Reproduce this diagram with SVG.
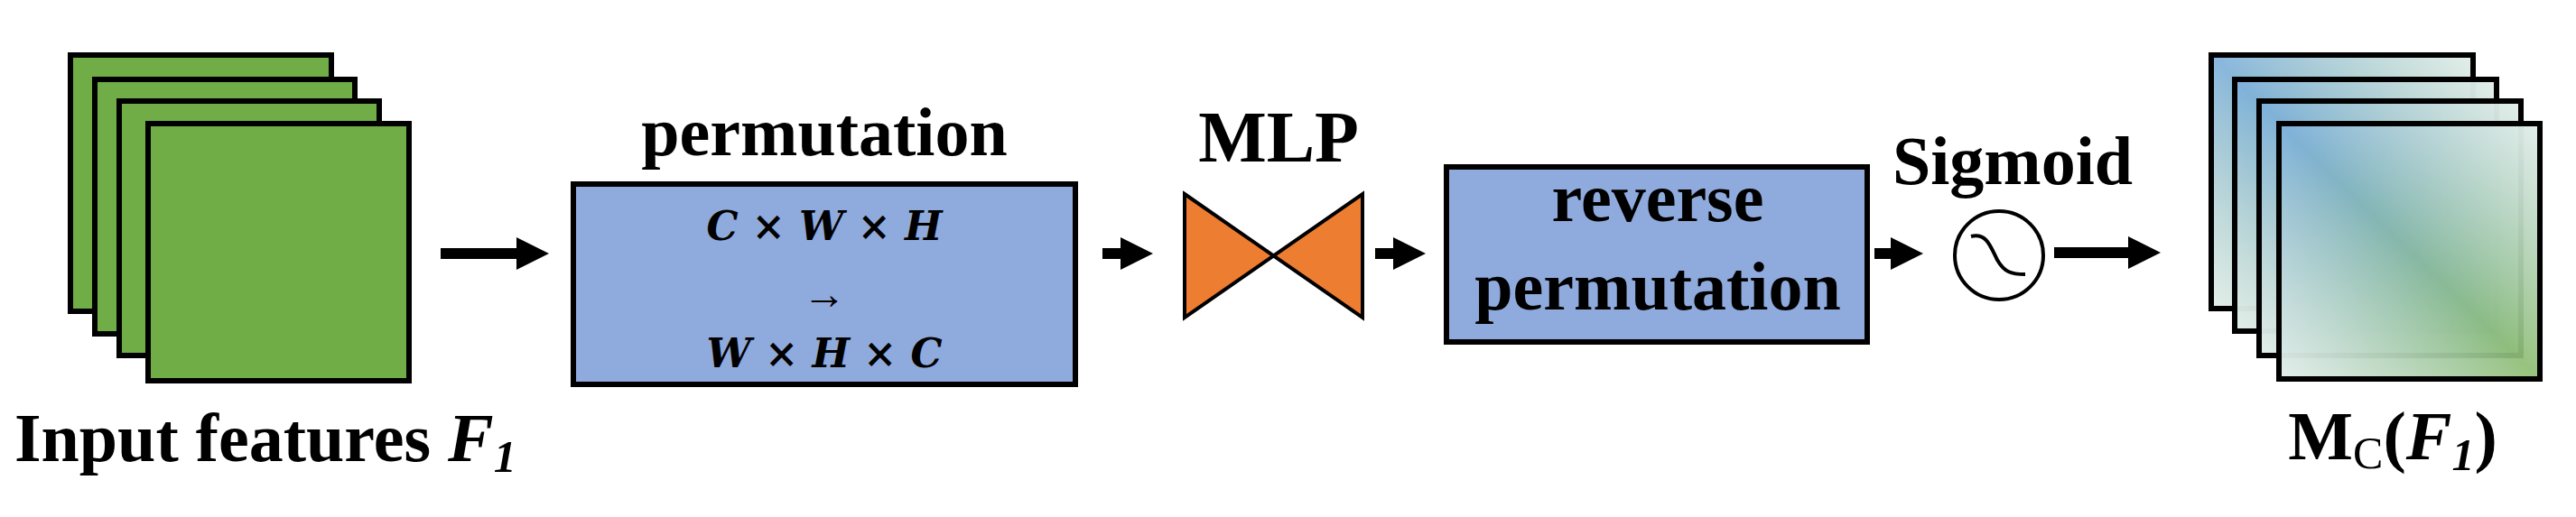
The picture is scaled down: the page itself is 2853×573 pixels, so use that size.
<svg xmlns="http://www.w3.org/2000/svg" width="2853" height="573" viewBox="0 0 2853 573">
<style>
.t{font-family:"Liberation Serif","Times New Roman",serif;font-weight:bold;fill:#000}
.m{font-family:"DejaVu Serif","Liberation Serif",serif;font-weight:bold;font-style:italic;fill:#000}
.g{fill:#70ad47;stroke:#000;stroke-width:6}
.b{fill:#8faadc;stroke:#000;stroke-width:6}
.o{fill:url(#bg);stroke:#000;stroke-width:6}
</style>
<defs>
<linearGradient id="bgBase" x1="0" y1="0" x2="1" y2="1">
<stop offset="0" stop-color="#5b9bd5"/><stop offset="1" stop-color="#70ad47"/>
</linearGradient>
<linearGradient id="bgHi" x1="1" y1="0" x2="0" y2="1">
<stop offset="0" stop-color="#fff" stop-opacity="0.8"/><stop offset="0.5" stop-color="#fff" stop-opacity="0.2"/><stop offset="1" stop-color="#fff" stop-opacity="0.8"/>
</linearGradient>
<marker id="ah" markerWidth="3" markerHeight="3" refX="1.5" refY="1.5" orient="auto" markerUnits="strokeWidth" viewBox="0 0 3 3">
<path d="M0,0 L3,1.5 L0,3 Z" fill="#000"/>
</marker>
</defs>
<g id="input">
<rect class="g" x="78" y="61" width="289" height="284"/>
<rect class="g" x="105" y="88" width="288" height="282"/>
<rect class="g" x="132" y="112" width="288" height="282"/>
<rect class="g" x="164" y="137" width="289" height="285"/>
<text class="t" x="16" y="511" font-size="76">Input features <tspan font-style="italic">F<tspan font-size="50" dy="12">1</tspan></tspan></text>
</g>
<g id="permutation">
<text class="t" x="913" y="172" font-size="76" text-anchor="middle">permutation</text>
<rect class="b" x="635" y="204" width="556" height="222"/>
<text class="m" x="913" y="266" font-size="44" text-anchor="middle">C × W × H</text>
<text class="t" x="913" y="342" font-size="48" text-anchor="middle" font-weight="normal">→</text>
<text class="m" x="913" y="407" font-size="44" text-anchor="middle">W × H × C</text>
</g>
<g id="mlp">
<text class="t" x="1416" y="179" font-size="80" text-anchor="middle">MLP</text>
<path d="M1312,215 L1509,352 L1509,215 L1312,352 Z" fill="#ed7d31" stroke="#000" stroke-width="4" stroke-linejoin="miter"/>
</g>
<g id="reverse">
<rect class="b" x="1602" y="185" width="466" height="194"/>
<text class="t" x="1836" y="245" font-size="76" text-anchor="middle">reverse</text>
<text class="t" x="1836" y="343" font-size="76" text-anchor="middle">permutation</text>
</g>
<g id="sigmoid">
<text class="t" x="2229" y="204" font-size="76" text-anchor="middle">Sigmoid</text>
<ellipse cx="2214" cy="283" rx="49" ry="49" fill="#fff" stroke="#000" stroke-width="4"/>
<path d="M2183,262 C2200,258 2204,272 2212,288 C2220,302 2228,304 2243,304" fill="none" stroke="#000" stroke-width="4"/>
</g>
<g id="output">
<g>
<rect x="2449" y="61" width="290" height="281" fill="url(#bgBase)" fill-opacity="0.9"/><rect x="2449" y="61" width="290" height="281" fill="url(#bgHi)" stroke="#000" stroke-width="6"/>
<rect x="2475" y="88" width="290" height="279" fill="url(#bgBase)" fill-opacity="0.9"/><rect x="2475" y="88" width="290" height="279" fill="url(#bgHi)" stroke="#000" stroke-width="6"/>
<rect x="2502" y="112" width="290" height="282" fill="url(#bgBase)" fill-opacity="0.9"/><rect x="2502" y="112" width="290" height="282" fill="url(#bgHi)" stroke="#000" stroke-width="6"/>
<rect x="2524" y="137" width="289" height="283" fill="url(#bgBase)" fill-opacity="0.9"/><rect x="2524" y="137" width="289" height="283" fill="url(#bgHi)" stroke="#000" stroke-width="6"/>
</g>
<text class="t" x="2650" y="509" font-size="76" text-anchor="middle">M<tspan font-weight="normal" font-size="50" dy="10">C</tspan><tspan dy="-10">(</tspan><tspan font-style="italic">F<tspan font-size="50" dy="12">1</tspan></tspan><tspan dy="-12">)</tspan></text>
</g>
<g id="connectors" stroke="#000" stroke-width="12" marker-end="url(#ah)">
<line x1="488" y1="281" x2="590" y2="281"/>
<line x1="1221" y1="281" x2="1259" y2="281"/>
<line x1="1523" y1="281" x2="1561" y2="281"/>
<line x1="2076" y1="281" x2="2112" y2="281"/>
<line x1="2275" y1="280" x2="2375" y2="280"/>
</g>
</svg>
